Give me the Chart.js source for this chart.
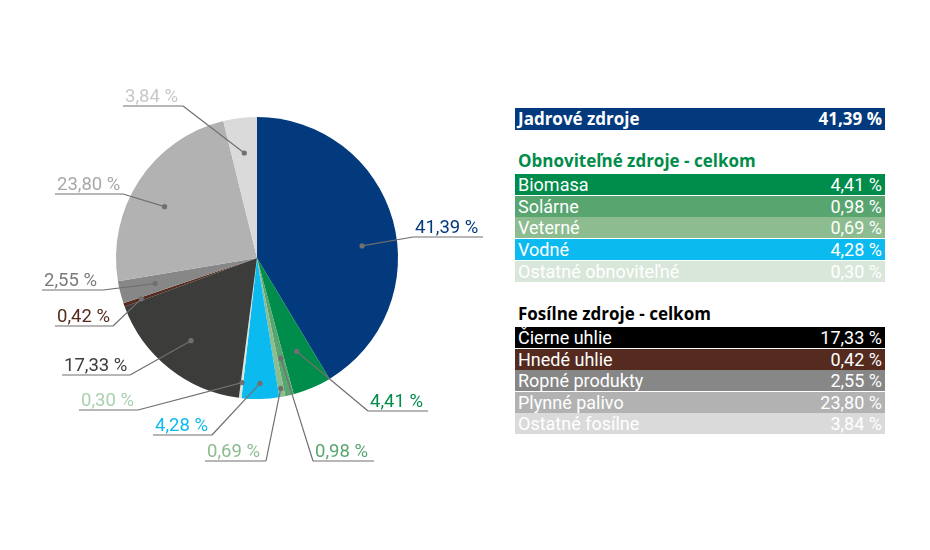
<!DOCTYPE html>
<html>
<head>
<meta charset="utf-8">
<script src="https://cdn.jsdelivr.net/npm/chart.js@4"></script>
<style>
  body { margin: 0; background: #fff; font-family: Roboto, "Noto Sans", sans-serif; }
  #wrap { position: relative; width: 930px; height: 550px; }
  #pieBox { position: absolute; left: 0; top: 0; width: 514px; height: 516px; }
  #table { position: absolute; left: 515px; top: 0; width: 370px; }
  .row { position: absolute; left: 0; width: 370px; height: 21px; color: #fff; font-size: 18px;
         line-height: 21px; display: flex; justify-content: space-between; padding: 0 3px; box-sizing: border-box; }
  .row.main { font-family: "Open Sans", sans-serif; font-weight: 700; font-size: 17px; height: 22px; line-height: 22px; }
  .head { position: absolute; left: 3px; font-family: "Open Sans", sans-serif; font-size: 17px; font-weight: 700; }
</style>
</head>
<body>
<div id="wrap">
  <div id="pieBox"><canvas id="pieChart"></canvas></div>
  <div id="table"></div>
</div>
<script>
const categories = ["Jadrové zdroje", "Biomasa", "Solárne", "Veterné", "Vodné", "Ostatné obnoviteľné",
  "Čierne uhlie", "Hnedé uhlie", "Ropné produkty", "Plynné palivo", "Ostatné fosílne"];
const shares = [41.39, 4.41, 0.98, 0.69, 4.28, 0.30, 17.33, 0.42, 2.55, 23.80, 3.84];
const renewableRows = [1, 2, 3, 4, 5];
const fossilRows = [6, 7, 8, 9, 10];
const groupTitles = ["Obnoviteľné zdroje - celkom", "Fosílne zdroje - celkom"];

// colours
const sliceColors = ["#023a7d", "#008c4a", "#58a570", "#8cbc8f", "#0bbbef", "#d6e6d7",
  "#3c3c3b", "#542b1e", "#878787", "#b2b2b2", "#dadada"];
const rowColors = ["#023a7d", "#008c4a", "#58a570", "#8cbc8f", "#0bbbef", "#d9e7da",
  "#000000", "#542b1e", "#878787", "#b2b2b2", "#dadada"];
const labelColors = ["#023a7d", "#008c4a", "#58a570", "#8cbc8f", "#0bbbef", "#a9d0ae",
  "#3c3c3b", "#542b1e", "#7a7a7a", "#a8a8a8", "#c8c8c8"];

// callout layout: t = position along the slice, r = share of radius,
// underline from x0 to x1 at y, joined at the left or right end
const callouts = [
  { t: 0.56, r: 0.75, x0: 413, x1: 483, y: 237, join: "left" },
  { t: 0.5, r: 0.72, x0: 368, x1: 428, y: 411, join: "left" },
  { t: 0.5, r: 0.73, x0: 313, x1: 374, y: 461, join: "left" },
  { t: 0.5, r: 0.94, x0: 205, x1: 266, y: 461, join: "right" },
  { t: 0.5, r: 0.89, x0: 153, x1: 212, y: 435, join: "right" },
  { t: 0.5, r: 0.89, x0: 79, x1: 138, y: 410, join: "right" },
  { t: 0.5, r: 0.75, x0: 62, x1: 130, y: 375, join: "right" },
  { t: 0.5, r: 0.87, x0: 55, x1: 113, y: 326, join: "right" },
  { t: 0.5, r: 0.745, x0: 42, x1: 103, y: 290, join: "right" },
  { t: 0.45, r: 0.75, x0: 55, x1: 123, y: 194, join: "right" },
  { t: 0.5, r: 0.75, x0: 123, x1: 183, y: 106, join: "right" },
];

const fmt = (v) => v.toFixed(2).replace(".", ",") + " %";

const calloutPlugin = {
  id: "callouts",
  afterDraw(chart) {
    const ctx = chart.ctx;
    const arcs = chart.getDatasetMeta(0).data;
    ctx.save();
    arcs.forEach((arc, i) => {
      const c = callouts[i];
      const p = arc.getProps(["x", "y", "startAngle", "endAngle", "outerRadius"], true);
      const a = p.startAngle + c.t * (p.endAngle - p.startAngle);
      const dx = p.x + Math.cos(a) * p.outerRadius * c.r;
      const dy = p.y + Math.sin(a) * p.outerRadius * c.r;
      const jx = c.join === "left" ? c.x0 : c.x1;
      ctx.strokeStyle = "#707070";
      ctx.lineWidth = 1.2;
      ctx.beginPath();
      ctx.moveTo(dx, dy);
      ctx.lineTo(jx, c.y);
      ctx.moveTo(c.x0, c.y);
      ctx.lineTo(c.x1, c.y);
      ctx.stroke();
      ctx.fillStyle = "#707070";
      ctx.beginPath();
      ctx.arc(dx, dy, 2.6, 0, Math.PI * 2);
      ctx.fill();
      ctx.fillStyle = labelColors[i];
      ctx.font = "18.5px Roboto";
      ctx.textAlign = "left";
      ctx.textBaseline = "alphabetic";
      ctx.fillText(fmt(shares[i]), c.x0 + 2, c.y - 4);
    });
    ctx.restore();
  },
};

new Chart(document.getElementById("pieChart"), {
  type: "pie",
  data: {
    labels: categories,
    datasets: [{ data: shares, backgroundColor: sliceColors, borderWidth: 0 }],
  },
  options: {
    responsive: true,
    maintainAspectRatio: false,
    animation: false,
    layout: { padding: { left: 116, right: 116, top: 117, bottom: 117 } },
    plugins: { legend: { display: false }, tooltip: { enabled: false } },
  },
  plugins: [calloutPlugin],
});

// right-hand table built from the same arrays
const table = document.getElementById("table");
function addRow(i, top, main) {
  const d = document.createElement("div");
  d.className = "row" + (main ? " main" : "");
  d.style.top = top + "px";
  d.style.background = rowColors[i];
  d.innerHTML = "<span></span><span></span>";
  d.children[0].textContent = categories[i];
  d.children[1].textContent = fmt(shares[i]);
  table.appendChild(d);
}
function addHead(text, top, color) {
  const h = document.createElement("div");
  h.className = "head";
  h.style.top = top + "px";
  h.style.color = color;
  h.textContent = text;
  table.appendChild(h);
}
addRow(0, 108, true);
addHead(groupTitles[0], 149, "#008c4a");
renewableRows.forEach((i, k) => addRow(i, 174 + k * 21.7, false));
addHead(groupTitles[1], 302, "#000");
fossilRows.forEach((i, k) => addRow(i, 327 + k * 21.6, false));
</script>
</body>
</html>
